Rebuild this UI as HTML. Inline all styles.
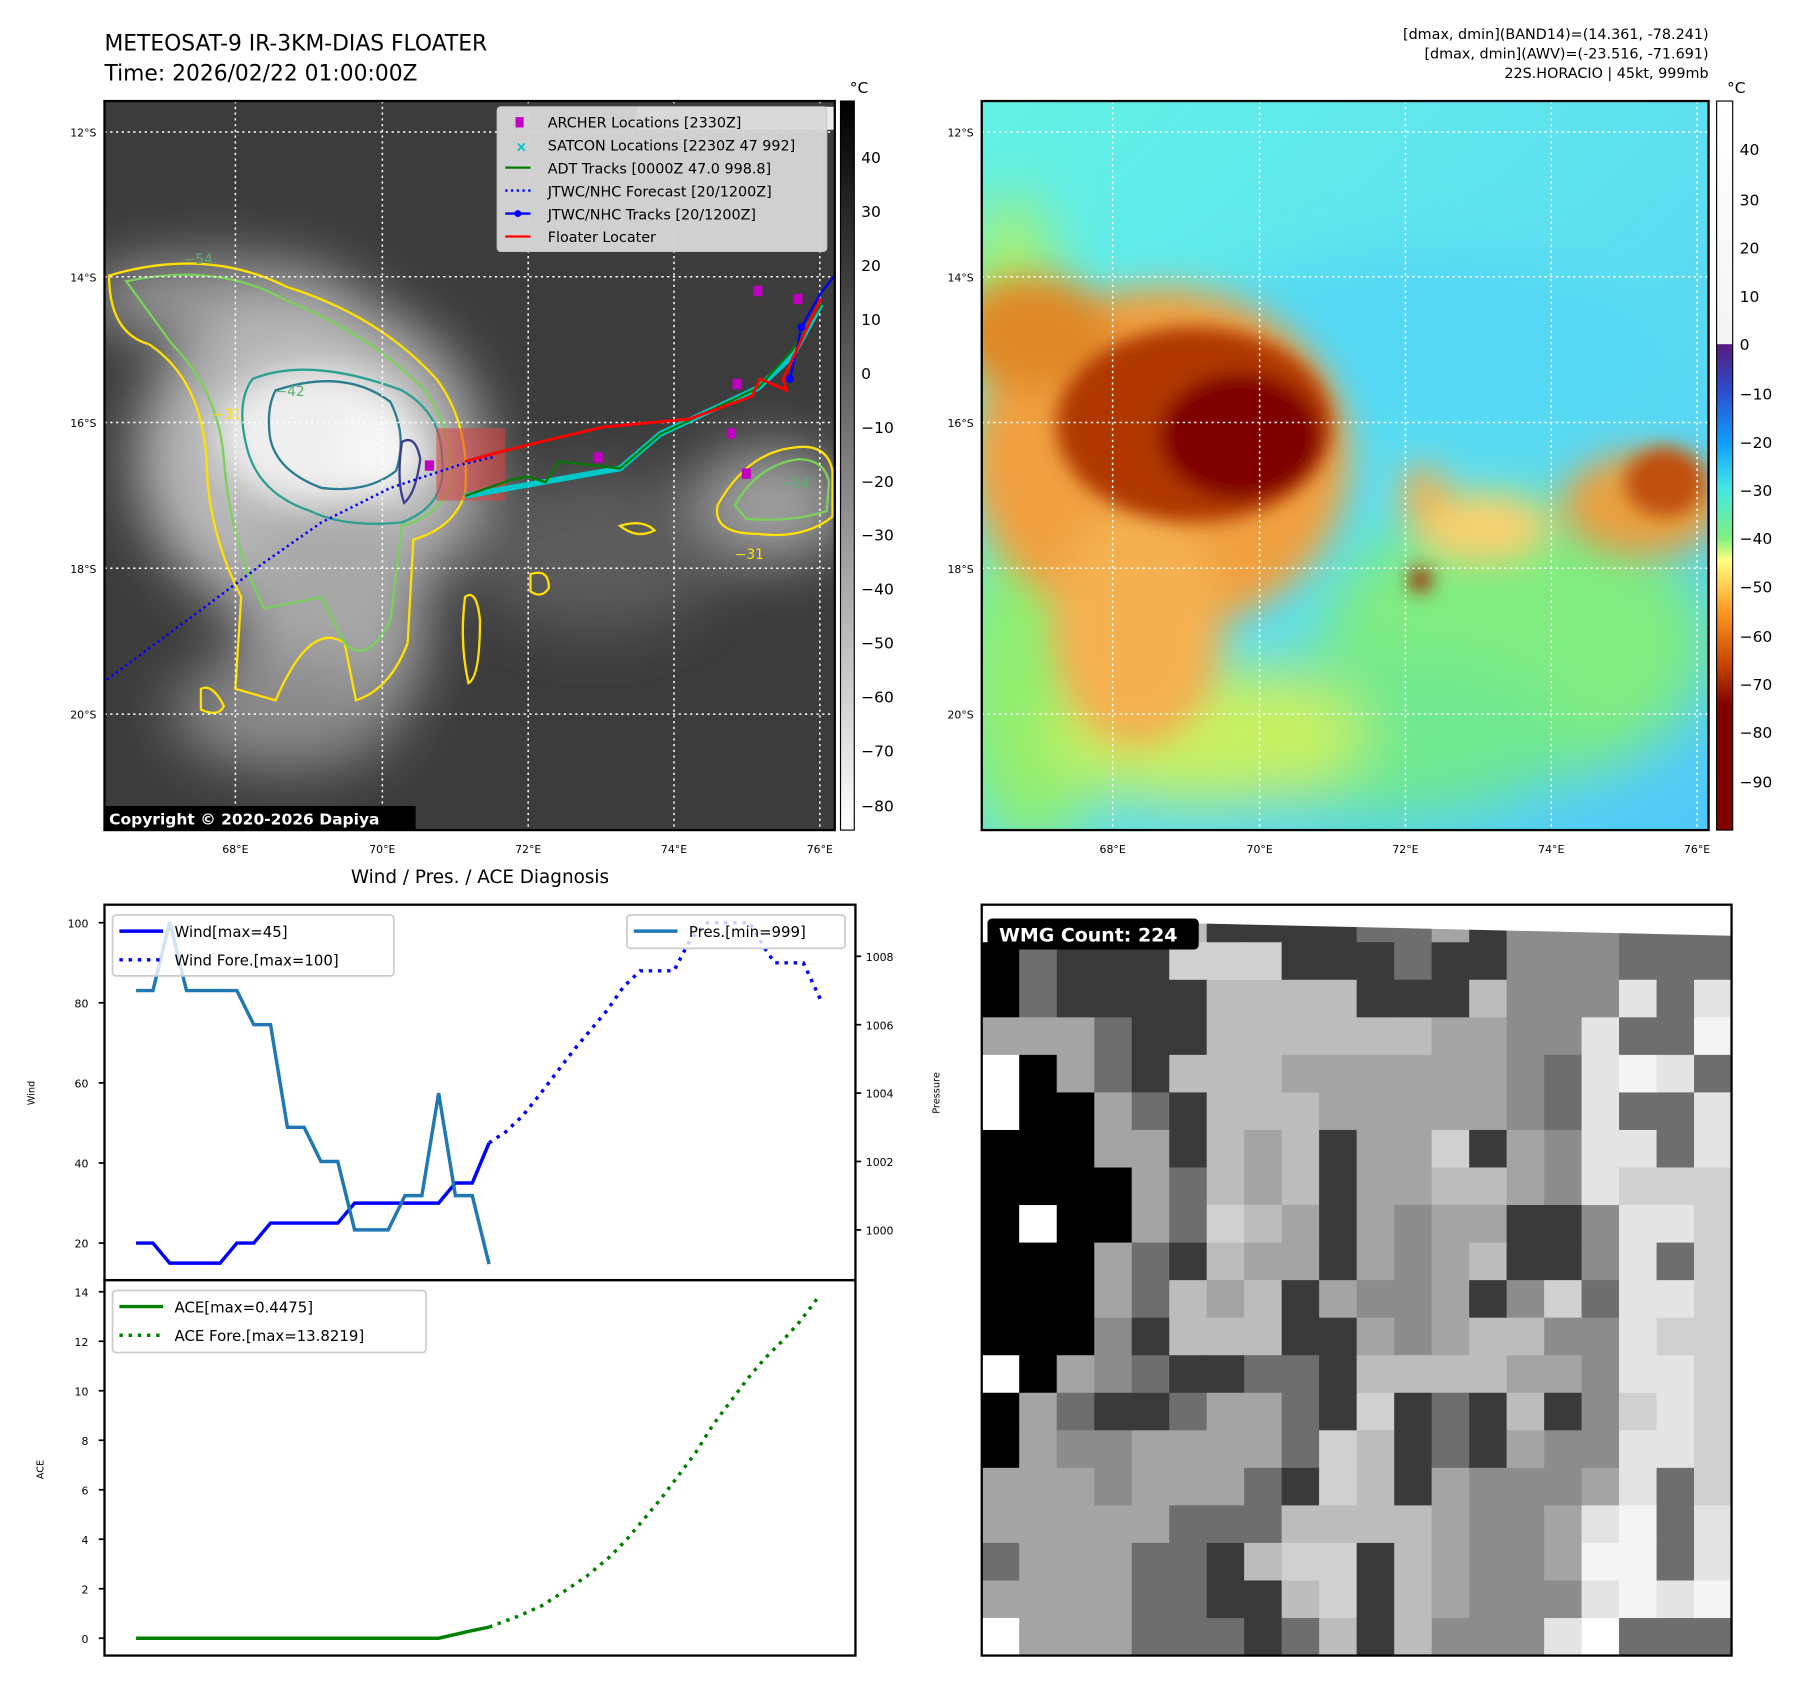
<!DOCTYPE html>
<html><head><meta charset="utf-8"><title>Tropical cyclone 22S Horacio: satellite and intensity diagnosis</title>
<style>
html,body{margin:0;padding:0;background:#fff;}
svg{display:block;}
text{font-family:"DejaVu Sans","Liberation Sans",sans-serif;}
</style></head>
<body>
<svg id="fig" width="1797" height="1690" viewBox="0 0 1565 1472" preserveAspectRatio="none" xmlns="http://www.w3.org/2000/svg">
<defs>
  <filter id="b8" x="-50%" y="-50%" width="200%" height="200%"><feGaussianBlur stdDeviation="8"/></filter>
  <filter id="b15" x="-50%" y="-50%" width="200%" height="200%"><feGaussianBlur stdDeviation="15"/></filter>
  <filter id="b25" x="-50%" y="-50%" width="200%" height="200%"><feGaussianBlur stdDeviation="25"/></filter>
  <linearGradient id="cbL" x1="0" y1="0" x2="0" y2="1"><stop offset="0" stop-color="#000"/><stop offset="1" stop-color="#fff"/></linearGradient>
  <linearGradient id="cbR" x1="0" y1="0" x2="0" y2="1">
    <stop offset="0" stop-color="#ffffff"/><stop offset="0.333" stop-color="#f4f4f4"/>
    <stop offset="0.334" stop-color="#5a1a80"/><stop offset="0.40" stop-color="#2a50d0"/>
    <stop offset="0.47" stop-color="#10a0ff"/><stop offset="0.53" stop-color="#40e8e8"/>
    <stop offset="0.60" stop-color="#80f080"/><stop offset="0.63" stop-color="#ffff80"/>
    <stop offset="0.70" stop-color="#ff9a20"/><stop offset="0.77" stop-color="#c84800"/>
    <stop offset="0.83" stop-color="#800000"/><stop offset="1" stop-color="#800000"/>
  </linearGradient>
  <linearGradient id="rbg" x1="0" y1="0" x2="1" y2="1">
    <stop offset="0" stop-color="#62f2e4"/><stop offset="0.5" stop-color="#5ee0f0"/><stop offset="1" stop-color="#50c8f8"/>
  </linearGradient>
  <clipPath id="clipL"><rect x="91" y="88" width="636" height="635"/></clipPath>
  <clipPath id="clipR"><rect x="855" y="88" width="633" height="635"/></clipPath>
  <clipPath id="clipW"><rect x="855" y="788" width="653" height="654"/></clipPath>
</defs>

<text x="91" y="44" font-size="19">METEOSAT-9 IR-3KM-DIAS FLOATER</text>
<text x="91" y="70" font-size="19">Time: 2026/02/22 01:00:00Z</text>
<text x="1488" y="34" font-size="12.5" text-anchor="end">[dmax, dmin](BAND14)=(14.361, -78.241)</text>
<text x="1488" y="51" font-size="12.5" text-anchor="end">[dmax, dmin](AWV)=(-23.516, -71.691)</text>
<text x="1488" y="68" font-size="12.5" text-anchor="end">22S.HORACIO | 45kt, 999mb</text>

<g clip-path="url(#clipL)">
  <rect x="91" y="88" width="636" height="635" fill="#3c3c3c"/>
  <g filter="url(#b25)">
    <ellipse cx="190" cy="260" rx="120" ry="35" fill="#9a9a9a"/>
    <ellipse cx="270" cy="400" rx="150" ry="140" fill="#b8b8b8"/>
    <ellipse cx="290" cy="540" rx="80" ry="110" fill="#a8a8a8"/>
    <ellipse cx="250" cy="620" rx="100" ry="50" fill="#8a8a8a"/>
    <ellipse cx="670" cy="440" rx="70" ry="50" fill="#a0a0a0"/>
    <ellipse cx="520" cy="480" rx="110" ry="70" fill="#5c5c5c"/>
  </g>
  <g filter="url(#b15)">
    <ellipse cx="275" cy="380" rx="85" ry="60" fill="#eeeeee"/>
    <ellipse cx="330" cy="395" rx="40" ry="40" fill="#f6f6f6"/>
  </g>
  <g fill="none" stroke-width="2">
    <path d="M95 240 Q180 215 250 250 Q330 275 380 330 Q410 370 405 430 Q395 460 360 470 L355 560 Q340 600 310 610 L300 560 Q270 540 240 610 L205 600 L210 520 Q180 460 180 400 Q175 330 130 300 Q95 290 95 240 Z" stroke="#ffe000"/>
    <path d="M110 245 Q190 228 250 262 Q320 290 370 340 Q398 380 392 425 Q380 450 350 458 L340 540 Q320 580 300 560 L280 520 L230 530 Q200 470 195 400 Q190 340 150 300 Z" stroke="#7ad15a"/>
    <path d="M220 330 Q270 310 350 340 Q385 360 385 400 Q390 440 350 455 Q300 460 270 445 Q225 430 215 390 Q205 350 220 330Z" stroke="#2aa090"/>
    <path d="M240 340 Q300 320 340 350 Q355 380 345 410 Q320 430 280 425 Q240 410 235 380 Q232 355 240 340Z" stroke="#2a7c90"/>
    <path d="M350 385 Q362 378 366 400 Q362 430 352 438 Q345 420 350 385Z" stroke="#3a3c8c"/>
    <path d="M625 440 Q650 395 690 390 Q720 385 725 410 L725 450 Q700 470 660 465 Q620 465 625 440Z" stroke="#ffe000"/>
    <path d="M640 440 Q660 405 695 400 Q718 400 722 420 L720 445 Q690 455 650 452Z" stroke="#7ad15a"/>
    <path d="M175 600 Q185 595 195 615 Q190 625 175 618Z" stroke="#ffe000"/>
    <path d="M405 520 Q415 512 418 540 Q418 590 408 595 Q400 560 405 520Z" stroke="#ffe000"/>
    <path d="M462 500 Q478 495 478 512 Q472 522 462 515Z" stroke="#ffe000"/>
    <path d="M540 458 Q560 452 570 462 Q555 470 540 458Z" stroke="#ffe000"/>
  </g>
  <g font-size="12" fill="#58b070">
    <text x="160" y="230">−54</text><text x="240" y="345">−42</text><text x="185" y="365" fill="#ffe000">−31</text>
    <text x="640" y="487" fill="#ffe000">−31</text><text x="680" y="425">−54</text>
  </g>
  <g stroke="#fff" stroke-width="1.3" stroke-dasharray="2 3">
    <line x1="205" y1="88" x2="205" y2="723"/><line x1="333" y1="88" x2="333" y2="723"/><line x1="460" y1="88" x2="460" y2="723"/><line x1="587" y1="88" x2="587" y2="723"/><line x1="714" y1="88" x2="714" y2="723"/>
    <line x1="91" y1="115" x2="727" y2="115"/><line x1="91" y1="241" x2="727" y2="241"/><line x1="91" y1="368" x2="727" y2="368"/><line x1="91" y1="495" x2="727" y2="495"/><line x1="91" y1="622" x2="727" y2="622"/>
  </g>
  <rect x="380" y="373" width="60" height="63" fill="#e04040" opacity="0.55"/>
  <polyline points="93,592 170,535 230,490 280,455 340,425 400,405 430,398" fill="none" stroke="#0000ff" stroke-width="2.2" stroke-dasharray="2 3"/>
  <polyline points="405,432 540,408 575,378 660,338 690,310 715,265" fill="none" stroke="#00c8c8" stroke-width="5"/>
  <polyline points="405,432 445,418 460,415 475,420 487,402 540,408 575,378 660,338 690,305 715,265" fill="none" stroke="#007a00" stroke-width="2"/>
  <polyline points="688,330 698,285 715,255 727,240" fill="none" stroke="#0000ff" stroke-width="2"/>
  <circle cx="688" cy="330" r="3.5" fill="#0000ff"/><circle cx="698" cy="285" r="3.5" fill="#0000ff"/>
  <polyline points="405,402 430,395 470,385 525,372 600,365 655,345 662,330 685,340 682,330 715,260" fill="none" stroke="#ff0000" stroke-width="2.5"/>
  <g fill="#c000c0">
    <rect x="370" y="401" width="8" height="9"/><rect x="517" y="394" width="8" height="9"/><rect x="633" y="373" width="8" height="9"/>
    <rect x="646" y="408" width="8" height="9"/><rect x="638" y="330" width="8" height="9"/><rect x="656" y="249" width="8" height="9"/><rect x="691" y="256" width="8" height="9"/>
  </g>
  <rect x="555" y="93" width="172" height="20" fill="#fff" opacity="0.9"/>
  <text x="560" y="108" font-size="13" font-weight="bold" fill="#ccc">© EUMETSAT 2026</text>
</g>
<rect x="91" y="88" width="636" height="635" fill="none" stroke="#000" stroke-width="2"/>
<g>
  <rect x="433" y="93" width="287" height="126" rx="3" fill="#d8d8d8" opacity="0.95" stroke="#ccc"/>
  <rect x="449" y="102" width="7" height="9" fill="#c000c0"/>
  <text x="449" y="132" font-size="12" fill="#00c0c0" font-weight="bold">×</text>
  <line x1="440" y1="146" x2="462" y2="146" stroke="#007a00" stroke-width="2"/>
  <line x1="440" y1="166" x2="462" y2="166" stroke="#0000ff" stroke-width="2" stroke-dasharray="2 3"/>
  <line x1="440" y1="186" x2="462" y2="186" stroke="#0000ff" stroke-width="2"/><circle cx="451" cy="186" r="3" fill="#0000ff"/>
  <line x1="440" y1="206" x2="462" y2="206" stroke="#ff0000" stroke-width="2"/>
  <g font-size="12.5">
    <text x="477" y="111">ARCHER Locations [2330Z]</text>
    <text x="477" y="131">SATCON Locations [2230Z 47 992]</text>
    <text x="477" y="151">ADT Tracks [0000Z 47.0 998.8]</text>
    <text x="477" y="171">JTWC/NHC Forecast [20/1200Z]</text>
    <text x="477" y="191">JTWC/NHC Tracks [20/1200Z]</text>
    <text x="477" y="211">Floater Locater</text>
  </g>
</g>
<g>
  <rect x="91" y="702" width="271" height="21" fill="#000"/>
  <text x="95" y="718" font-size="13.5" font-weight="bold" fill="#fff">Copyright © 2020-2026 Dapiya</text>
</g>
<g font-size="9.5" fill="#000">
  <text x="84" y="119" text-anchor="end">12°S</text><text x="84" y="245" text-anchor="end">14°S</text><text x="84" y="372" text-anchor="end">16°S</text><text x="84" y="499" text-anchor="end">18°S</text><text x="84" y="626" text-anchor="end">20°S</text>
  <text x="205" y="743" text-anchor="middle">68°E</text><text x="333" y="743" text-anchor="middle">70°E</text><text x="460" y="743" text-anchor="middle">72°E</text><text x="587" y="743" text-anchor="middle">74°E</text><text x="714" y="743" text-anchor="middle">76°E</text>
</g>
<g>
  <rect x="732" y="88" width="12" height="635" fill="url(#cbL)" stroke="#000" stroke-width="1"/>
  <text x="740" y="81" font-size="13.5">°C</text>
  <g font-size="13.5">
    <text x="750" y="142">40</text><text x="750" y="189">30</text><text x="750" y="236">20</text><text x="750" y="283">10</text><text x="750" y="330">0</text>
    <text x="750" y="377">−10</text><text x="750" y="424">−20</text><text x="750" y="471">−30</text><text x="750" y="518">−40</text><text x="750" y="565">−50</text>
    <text x="750" y="612">−60</text><text x="750" y="659">−70</text><text x="750" y="707">−80</text>
  </g>
</g>

<g clip-path="url(#clipR)">
  <rect x="855" y="88" width="633" height="635" fill="url(#rbg)"/>
  <g filter="url(#b25)">
    <ellipse cx="1240" cy="300" rx="200" ry="80" fill="#54d8f4"/>
    <ellipse cx="1320" cy="560" rx="170" ry="120" fill="#80ec80"/>
    <ellipse cx="1210" cy="640" rx="160" ry="70" fill="#70e890"/>
    <ellipse cx="900" cy="600" rx="70" ry="140" fill="#90ee70"/>
    <ellipse cx="1050" cy="640" rx="140" ry="60" fill="#c8f060"/>
    <ellipse cx="880" cy="250" rx="40" ry="80" fill="#a8f070"/>
  </g>
  <g filter="url(#b15)">
    <ellipse cx="1010" cy="400" rx="165" ry="150" fill="#f0a040"/>
    <ellipse cx="990" cy="545" rx="75" ry="105" fill="#f4b050"/>
    <ellipse cx="900" cy="290" rx="70" ry="50" fill="#e08828"/>
    <ellipse cx="1430" cy="440" rx="70" ry="45" fill="#e8a040"/>
    <ellipse cx="1290" cy="460" rx="60" ry="30" fill="#f8d070"/>
    <ellipse cx="1240" cy="430" rx="20" ry="25" fill="#f0b050"/>
  </g>
  <g filter="url(#b8)">
    <ellipse cx="1040" cy="370" rx="120" ry="85" fill="#b03800"/>
    <ellipse cx="1080" cy="380" rx="70" ry="55" fill="#800000"/>
    <ellipse cx="1450" cy="420" rx="35" ry="30" fill="#c05010"/>
    <ellipse cx="1237" cy="505" rx="10" ry="11" fill="#a02000"/>
  </g>
  <g stroke="#fff" stroke-width="1.3" stroke-dasharray="2 3">
    <line x1="969" y1="88" x2="969" y2="723"/><line x1="1097" y1="88" x2="1097" y2="723"/><line x1="1224" y1="88" x2="1224" y2="723"/><line x1="1351" y1="88" x2="1351" y2="723"/><line x1="1478" y1="88" x2="1478" y2="723"/>
    <line x1="855" y1="115" x2="1488" y2="115"/><line x1="855" y1="241" x2="1488" y2="241"/><line x1="855" y1="368" x2="1488" y2="368"/><line x1="855" y1="495" x2="1488" y2="495"/><line x1="855" y1="622" x2="1488" y2="622"/>
  </g>
</g>
<rect x="855" y="88" width="633" height="635" fill="none" stroke="#000" stroke-width="2"/>
<g font-size="9.5">
  <text x="848" y="119" text-anchor="end">12°S</text><text x="848" y="245" text-anchor="end">14°S</text><text x="848" y="372" text-anchor="end">16°S</text><text x="848" y="499" text-anchor="end">18°S</text><text x="848" y="626" text-anchor="end">20°S</text>
  <text x="969" y="743" text-anchor="middle">68°E</text><text x="1097" y="743" text-anchor="middle">70°E</text><text x="1224" y="743" text-anchor="middle">72°E</text><text x="1351" y="743" text-anchor="middle">74°E</text><text x="1478" y="743" text-anchor="middle">76°E</text>
</g>
<g>
  <rect x="1495" y="88" width="14" height="635" fill="url(#cbR)" stroke="#000" stroke-width="1"/>
  <text x="1504" y="81" font-size="13.5">°C</text>
  <g font-size="13.5">
    <text x="1515" y="135">40</text><text x="1515" y="179">30</text><text x="1515" y="221">20</text><text x="1515" y="263">10</text><text x="1515" y="305">0</text>
    <text x="1515" y="348">−10</text><text x="1515" y="390">−20</text><text x="1515" y="432">−30</text><text x="1515" y="474">−40</text><text x="1515" y="516">−50</text>
    <text x="1515" y="559">−60</text><text x="1515" y="601">−70</text><text x="1515" y="643">−80</text><text x="1515" y="686">−90</text>
  </g>
</g>

<text x="418" y="769" font-size="16" text-anchor="middle">Wind / Pres. / ACE Diagnosis</text>
<g id="diag"></g>

<g id="wmg" clip-path="url(#clipW)"></g>
<rect x="855" y="788" width="653" height="654" fill="none" stroke="#000" stroke-width="2"/>
<g>
  <rect x="860" y="800" width="184" height="27" rx="4" fill="#000"/>
  <text x="870" y="820" font-size="16.5" font-weight="bold" fill="#fff">WMG Count: 224</text>
</g>
</svg>

<script>
const timeIdx = [0,1,2,3,4,5,6,7,8,9,10,11,12,13,14,15,16,17,18,19,20,21];
const windObs = [20,20,15,15,15,15,20,20,25,25,25,25,25,30,30,30,30,30,30,35,35,45];
const presObs = [1007,1007,1009,1007,1007,1007,1007,1006,1006,1003,1003,1002,1002,1000,1000,1000,1001,1001,1004,1001,1001,999];
const foreIdx = [21,22,23,24,25,26,27,28,29,30,32,33,34,36.5,37.5,38,39.7,40.7];
const windFore = [45,47.8,51.8,57,62.5,68,73,78,84,88,88,96,100,100,93,90,90,81];
const aceObsIdx = [0,18,20,21];
const aceObs = [0,0,0.31,0.4475];
const aceForeIdx = [21,22.7,24.1,25.4,26.8,28.2,29.2,30.2,31.3,32.3,33.3,34.3,35.4,36.4,37.4,38.5,39.5,40.5];
const aceFore = [0.45,0.88,1.3,1.86,2.5,3.3,4.0,4.8,5.7,6.6,7.5,8.6,9.6,10.5,11.3,12.05,12.8,13.7];
const windTicks = [20,40,60,80,100];
const presTicks = [1000,1002,1004,1006,1008];
const aceTicks = [0,2,4,6,8,10,12,14];

const NS = 'http://www.w3.org/2000/svg';
function mk(tag, attrs, parent){const e=document.createElementNS(NS,tag);for(const k in attrs)e.setAttribute(k,attrs[k]);parent.appendChild(e);return e;}
const X = v => 91 + (v + 1.88) / (42.8 + 1.88) * (745 - 91);
const YW = v => 1115 - (v - 10.75) / (104.5 - 10.75) * (1115 - 788);
const YP = v => 1115 - (v - 998.53) / (1009.51 - 998.53) * (1115 - 788);
const YA = v => 1442 - (v + 0.70) / (14.47 + 0.70) * (1442 - 1115);
const diag = document.getElementById('diag');
function pts(xs, ys, fy){return xs.map((x,i)=>X(x).toFixed(1)+','+fy(ys[i]).toFixed(1)).join(' ');}

let f1 = mk('rect',{x:91,y:788,width:654,height:327,fill:'none',stroke:'#000','stroke-width':2},diag);


let f2 = mk('rect',{x:91,y:1115,width:654,height:327,fill:'none',stroke:'#000','stroke-width':2},diag);



windTicks.forEach(t=>{
  const y=YW(t);
  mk('line',{x1:86,y1:y,x2:91,y2:y,stroke:'#000','stroke-width':1.5},diag);
  const tx=mk('text',{x:77,y:y+4,'font-size':9.5,'text-anchor':'end'},diag);tx.textContent=t;
  
  
});
presTicks.forEach(t=>{
  const y=YP(t);
  mk('line',{x1:745,y1:y,x2:750,y2:y,stroke:'#000','stroke-width':1.5},diag);
  const tx=mk('text',{x:754,y:y+4,'font-size':9.5},diag);tx.textContent=t;
  
  
});
aceTicks.forEach(t=>{
  const y=YA(t);
  mk('line',{x1:86,y1:y,x2:91,y2:y,stroke:'#000','stroke-width':1.5},diag);
  const tx=mk('text',{x:77,y:y+4,'font-size':9.5,'text-anchor':'end'},diag);tx.textContent=t;
  
  
});
let yl1=mk('text',{x:0,y:0,'font-size':8.5,'text-anchor':'middle',transform:'translate(30,952) rotate(-90)'},diag);yl1.textContent='Wind';


let yl2=mk('text',{x:0,y:0,'font-size':8.5,'text-anchor':'middle',transform:'translate(818,952) rotate(-90)'},diag);yl2.textContent='Pressure';


let yl3=mk('text',{x:0,y:0,'font-size':8.5,'text-anchor':'middle',transform:'translate(38,1280) rotate(-90)'},diag);yl3.textContent='ACE';



let l1=mk('polyline',{points:pts(timeIdx,windObs,YW),fill:'none',stroke:'#0000ff','stroke-width':3},diag);


let l2=mk('polyline',{points:pts(foreIdx,windFore,YW),fill:'none',stroke:'#0000ff','stroke-width':3,'stroke-dasharray':'3 5'},diag);


let l3=mk('polyline',{points:pts(timeIdx,presObs,YP),fill:'none',stroke:'#1f77b4','stroke-width':3},diag);


let l4=mk('polyline',{points:pts(aceObsIdx,aceObs,YA),fill:'none',stroke:'#008000','stroke-width':3},diag);


let l5=mk('polyline',{points:pts(aceForeIdx,aceFore,YA),fill:'none',stroke:'#008000','stroke-width':3,'stroke-dasharray':'3 5'},diag);



function legend(name,x,y,w,h,items){
  const g=mk('g',{},diag);
  
  
  mk('rect',{x:x,y:y,width:w,height:h,rx:3,fill:'#fff','fill-opacity':0.8,stroke:'#ccc','stroke-width':1.5},g);
  items.forEach((it,i)=>{
    const yy=y+14+i*25;
    const ln=mk('line',{x1:x+6,y1:yy,x2:x+44,y2:yy,stroke:it.c,'stroke-width':3},g);
    if(it.d)ln.setAttribute('stroke-dasharray','3 5');
    const t=mk('text',{x:x+54,y:yy+5,'font-size':13},g);t.textContent=it.t;
  });
}
legend('wind-legend',98,797,245,53,[{c:'#0000ff',t:'Wind[max=45]'},{c:'#0000ff',t:'Wind Fore.[max=100]',d:1}]);
legend('pressure-legend',546,797,190,29,[{c:'#1f77b4',t:'Pres.[min=999]'}]);
legend('ace-legend',98,1124,273,54,[{c:'#008000',t:'ACE[max=0.4475]'},{c:'#008000',t:'ACE Fore.[max=13.8219]',d:1}]);

const wmgRows = [
"94455511112241333222",
"02111666111211333222",
"02111155551115333727",
"44421155555544337228",
"90421555444444327872",
"90042155544444327227",
"00044154514461437727",
"00004254514455437666",
"09004265414344113776",
"00042154414345113726",
"00042545143341362776",
"00031555114345533766",
"90432112215555443776",
"04211244216121513676",
"04334444265121433776",
"44434442165143334726",
"44444222555543347827",
"24442215661543348827",
"44442211561543337878",
"94442221251533379222"];
const grays=['#000000','#3a3a3a','#6e6e6e','#8c8c8c','#a4a4a4','#bcbcbc','#d0d0d0','#e4e4e4','#f4f4f4','#ffffff'];
const wmg=document.getElementById('wmg');
const cw=653/20, ch=654/20;
wmgRows.forEach((row,r)=>{
  for(let c=0;c<row.length;c++){
    const cell=mk('rect',{x:(855+c*cw).toFixed(1),y:(788+r*ch).toFixed(1),width:(cw+0.6).toFixed(1),height:(ch+0.6).toFixed(1),fill:grays[+row[c]]},wmg);
    
    
  }
});
const topStrip=mk('polygon',{points:'855,788 1508,788 1508,815 855,800',fill:'#fff'},wmg);


</script>
</body></html>
